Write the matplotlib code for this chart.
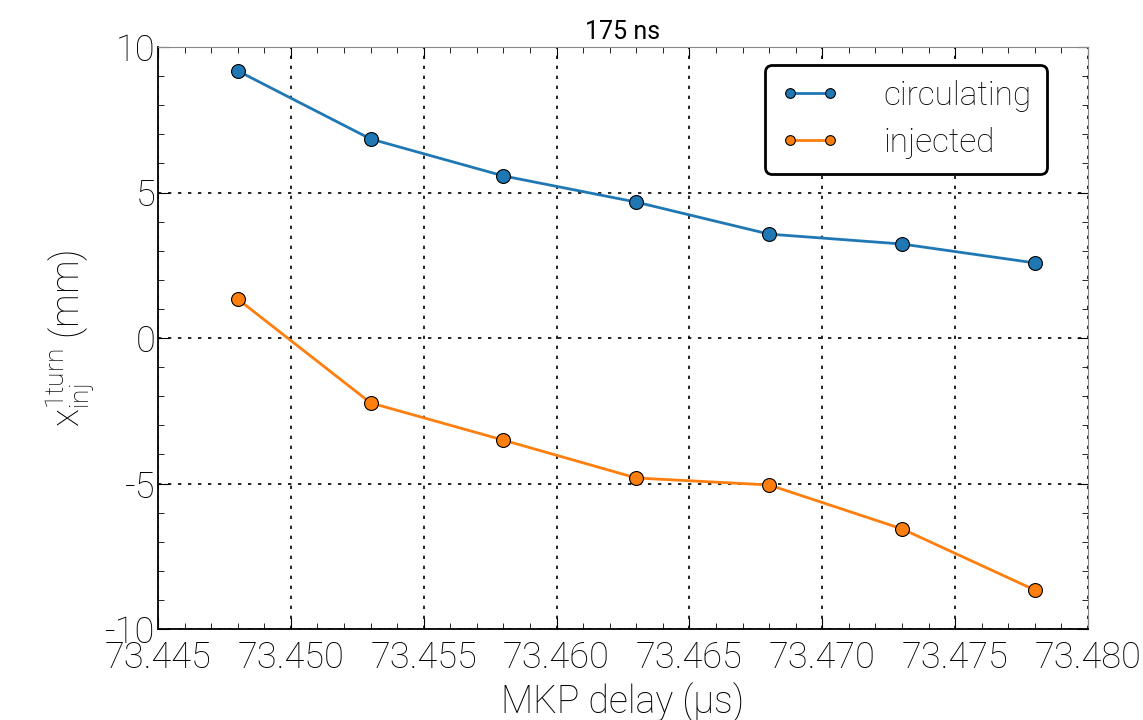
import matplotlib
matplotlib.use("Agg")
import matplotlib.pyplot as plt
from matplotlib.ticker import MultipleLocator

plt.rcParams['font.family'] = ['Roboto', 'DejaVu Sans']
plt.rcParams['font.weight'] = 'light'
plt.rcParams['axes.labelweight'] = 'light'
plt.rcParams['mathtext.fontset'] = 'custom'
plt.rcParams['mathtext.rm'] = 'Roboto:light'

delay = [73.448, 73.453, 73.458, 73.463, 73.468, 73.473, 73.478]
circulating = [9.18, 6.84, 5.57, 4.67, 3.57, 3.23, 2.58]
injected = [1.34, -2.23, -3.51, -4.81, -5.05, -6.56, -8.66]

fig = plt.figure(figsize=(11.43, 7.2), dpi=100)
ax = fig.add_axes([158 / 1143, 1 - 629 / 720, 930 / 1143, 582 / 720])

ax.plot(delay, circulating, '-o', color='#1f77b4', lw=2, ms=10,
        mec='black', mew=0.8, label='circulating')
ax.plot(delay, injected, '-o', color='#ff7f0e', lw=2, ms=10,
        mec='black', mew=0.8, label='injected')

ax.set_xlim(73.445, 73.480)
ax.set_ylim(-10, 10)
ax.xaxis.set_major_locator(MultipleLocator(0.005))
ax.xaxis.set_minor_locator(MultipleLocator(0.001))
ax.yaxis.set_major_locator(MultipleLocator(5))
ax.yaxis.set_minor_locator(MultipleLocator(1))
ax.xaxis.set_major_formatter(matplotlib.ticker.FormatStrFormatter('%.3f'))
ax.yaxis.set_major_formatter(matplotlib.ticker.FuncFormatter(lambda v, p: '%d' % v))
ax.tick_params(which='both', direction='in', top=True, right=True, labelsize=26, pad=2)
ax.tick_params(axis='x', which='major', pad=8)
ax.tick_params(which='major', length=8)
ax.tick_params(which='minor', length=4)
ax.grid(True, which='major', color='black', ls=(0, (2, 4)), lw=1.2)

for s in ['left', 'bottom']:
    ax.spines[s].set_color('black')
    ax.spines[s].set_linewidth(1.3)
for s in ['top', 'right']:
    ax.spines[s].set_color('#888888')

ax.set_title('175 ns', fontsize=18, pad=6, fontweight='normal')
ax.set_xlabel('MKP delay (µs)', fontsize=27, labelpad=4)
ax.set_ylabel(r'$\mathregular{x_{inj}^{1turn}}$ (mm)', fontsize=27, labelpad=6)

leg = ax.legend(loc='upper right', bbox_to_anchor=(0.956, 0.969), borderaxespad=0,
                numpoints=2, fontsize=24, frameon=True, fancybox=True,
                borderpad=0.45, handlelength=1.8, handletextpad=1.3,
                labelspacing=0.45, markerscale=0.7)
leg.get_frame().set_edgecolor('black')
leg.get_frame().set_linewidth(2)
leg.get_frame().set_alpha(1)

fig.savefig('out.png', dpi=100)
